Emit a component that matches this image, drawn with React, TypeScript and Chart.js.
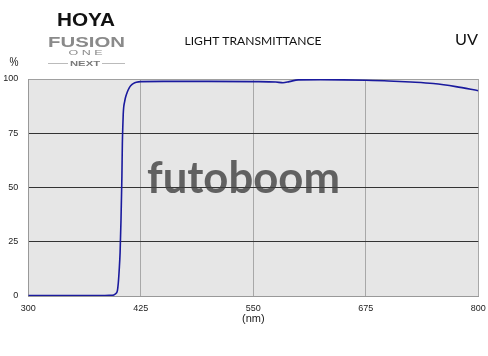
import React, { useEffect, useRef } from "react";
import { Chart, registerables } from "chart.js";

Chart.register(...registerables);

const wavelengths = [300, 320, 340, 360, 380, 390, 395, 397, 399, 400, 401, 402, 403, 404, 404.5, 405, 405.5, 406, 407, 408, 410, 412, 414, 417, 420, 425, 450, 500, 550, 575, 583, 590, 600, 625, 650, 675, 700, 725, 750, 775, 800];
const transmittance = [0.2, 0.2, 0.2, 0.2, 0.2, 0.3, 0.5, 1, 2.5, 6, 12, 20, 35, 55, 70, 78, 84, 87, 89.5, 91.5, 94, 95.8, 97, 98, 98.5, 98.8, 98.9, 98.9, 98.8, 98.6, 98.3, 98.8, 99.6, 99.7, 99.6, 99.4, 99.1, 98.6, 97.9, 96.5, 94.6];
const xTicks = [300, 425, 550, 675, 800];
const yTicks = [0, 25, 50, 75, 100];
const titleText = "LIGHT TRANSMITTANCE";
const filterText = "UV";
const xTitle = "(nm)";
const yUnit = "%";

function fitText(ctx: CanvasRenderingContext2D, text: string, cx: number, cy: number, w: number, font: string, color: string) {
  ctx.save();
  ctx.font = font;
  ctx.fillStyle = color;
  ctx.textAlign = "center";
  ctx.textBaseline = "middle";
  const m = ctx.measureText(text).width;
  ctx.translate(cx, cy);
  ctx.scale(w / m, 1);
  ctx.fillText(text, 0, 0);
  ctx.restore();
}

const decorPlugin = {
  id: "decor",
  beforeDraw(chart: any) {
    const { ctx, chartArea } = chart;
    ctx.save();
    ctx.fillStyle = "#ffffff";
    ctx.fillRect(0, 0, chart.width, chart.height);
    ctx.fillStyle = "#e6e6e6";
    ctx.fillRect(chartArea.left, chartArea.top, chartArea.right - chartArea.left, chartArea.bottom - chartArea.top);
    ctx.restore();
  },
  afterDatasetsDraw(chart: any) {
    const { ctx } = chart;
    ctx.save();
    ctx.globalAlpha = 0.8;
    fitText(ctx, "futoboom", 243.5, 179, 193, "bold 44px Lato", "#404040");
    ctx.restore();
  },
  afterDraw(chart: any) {
    const { ctx } = chart;
    fitText(ctx, titleText, 253, 41, 137, "12px Lato", "#111111");
    fitText(ctx, filterText, 466.5, 40, 23, "16px Lato", "#111111");
    fitText(ctx, yUnit, 14, 63, 9, "12px 'Liberation Sans'", "#222222");
    // logo
    fitText(ctx, "HOYA", 86, 21, 58, "bold 18px 'Liberation Sans'", "#111111");
    fitText(ctx, "FUSION", 86.5, 43, 77, "bold 15px 'Liberation Sans'", "#8a8a8a");
    fitText(ctx, "O N E", 85.5, 53, 34, "7px 'Liberation Sans'", "#8a8a8a");
    fitText(ctx, "NEXT", 85, 63.5, 30, "bold 8px 'Liberation Sans'", "#7a7a7a");
    ctx.save();
    ctx.strokeStyle = "#bbbbbb";
    ctx.lineWidth = 1;
    ctx.beginPath();
    ctx.moveTo(48, 63.5);
    ctx.lineTo(68, 63.5);
    ctx.moveTo(102, 63.5);
    ctx.lineTo(125, 63.5);
    ctx.stroke();
    ctx.restore();
  },
};

export default function App() {
  const ref = useRef<HTMLCanvasElement | null>(null);
  useEffect(() => {
    document.body.style.margin = "0";
    const canvas = ref.current!;
    const chart = new Chart(canvas, {
      type: "line",
      data: {
        datasets: [
          {
            data: wavelengths.map((w, i) => ({ x: w, y: transmittance[i] })),
            borderColor: "#1a1a9e",
            borderWidth: 1.6,
            pointRadius: 0,
            tension: 0.3,
            cubicInterpolationMode: "monotone",
            fill: false,
          },
        ],
      },
      options: {
        responsive: false,
        animation: false,
        devicePixelRatio: 1,
        layout: { padding: { left: 0, right: 9.7, top: 79, bottom: 30 } },
        plugins: { legend: { display: false }, tooltip: { enabled: false }, title: { display: false } },
        scales: {
          x: {
            type: "linear",
            min: 300,
            max: 800,
            afterBuildTicks: (scale: any) => {
              scale.ticks = xTicks.map((v) => ({ value: v }));
            },
            afterFit: (scale: any) => {
              scale.height = 30;
              scale.paddingLeft = 0;
              scale.paddingRight = 0;
            },
            ticks: { font: { size: 9, family: "'Liberation Sans'" }, color: "#222", padding: 7, maxRotation: 0 },
            grid: { color: "#a8a8a8", lineWidth: 1, drawTicks: false },
            border: { color: "#999", width: 1 },
            title: { display: true, text: xTitle, font: { size: 11, family: "'Liberation Sans'" }, color: "#222", padding: { top: 2, bottom: 0 } },
          },
          y: {
            min: 0,
            max: 100,
            afterBuildTicks: (scale: any) => {
              scale.ticks = yTicks.map((v) => ({ value: v }));
            },
            afterFit: (scale: any) => {
              scale.width = 28.3;
              scale.paddingTop = 0;
              scale.paddingBottom = 0;
            },
            ticks: { font: { size: 9, family: "'Liberation Sans'" }, color: "#222", padding: 10 },
            grid: {
              color: (c: any) => (c.tick && (c.tick.value === 0 || c.tick.value === 100) ? "#a0a0a0" : "#333333"),
              lineWidth: 1,
              drawTicks: false,
            },
            border: { color: "#999", width: 1 },
          },
        },
      } as any,
      plugins: [decorPlugin],
    });
    return () => chart.destroy();
  }, []);
  return (
    <div style={{ position: "absolute", left: 0, top: 0, width: 488, height: 356 }}>
      <canvas ref={ref} width={488} height={356} style={{ width: 488, height: 356 }} />
    </div>
  );
}
